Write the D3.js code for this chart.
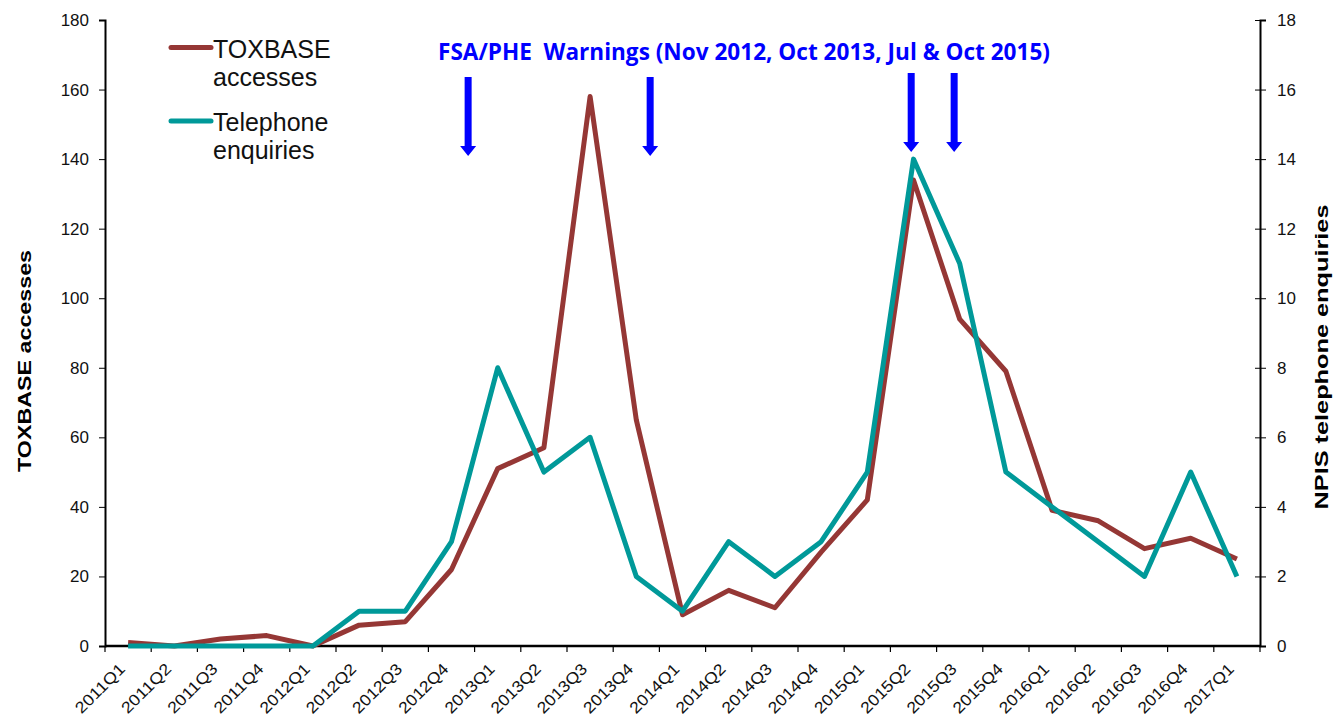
<!DOCTYPE html>
<html>
<head>
<meta charset="utf-8">
<script src="https://cdn.jsdelivr.net/npm/d3@7"></script>
<style>
  body { margin: 0; background: #fff; }
  text { font-family: "Liberation Sans", Arial, sans-serif; }
</style>
</head>
<body>
<div id="chart"></div>
<script>
// datos
const quarters = ["2011Q1","2011Q2","2011Q3","2011Q4","2012Q1","2012Q2","2012Q3","2012Q4",
  "2013Q1","2013Q2","2013Q3","2013Q4","2014Q1","2014Q2","2014Q3","2014Q4",
  "2015Q1","2015Q2","2015Q3","2015Q4","2016Q1","2016Q2","2016Q3","2016Q4","2017Q1"];
const toxbase = [1,0,2,3,0,6,7,22,51,57,158,65,9,16,11,27,42,134,94,79,39,36,28,31,25];
const telefono = [0,0,0,0,0,1,1,3,8,5,6,2,1,3,2,3,5,14,11,5,4,3,2,5,2];
const leftTicks = [0,20,40,60,80,100,120,140,160,180];
const rightTicks = [0,2,4,6,8,10,12,14,16,18];
// posicion de las advertencias, en indice de trimestre
const warningPos = [7.36, 11.3, 16.95, 17.88];
const warningTitle = "FSA/PHE  Warnings (Nov 2012, Oct 2013, Jul & Oct 2015)";

const W = 1334, H = 716;
const mLeft = 105, mRight = 1260, mTop = 20, mBottom = 646;

const SVG = d3.select("#chart").append("svg")
  .attr("width", W).attr("height", H);

const escalaX = d3.scaleBand().domain(quarters).range([mLeft, mRight]);
const cx = q => escalaX(q) + escalaX.bandwidth() / 2;
const escalaIdx = d3.scaleLinear().domain([0, quarters.length - 1])
  .range([cx(quarters[0]), cx(quarters[quarters.length - 1])]);
const escalaY1 = d3.scaleLinear().domain([0, 180]).range([mBottom, mTop]);
const escalaY2 = d3.scaleLinear().domain([0, 18]).range([mBottom, mTop]);

// eje izquierdo
const ejeIzq = SVG.append("g").attr("transform", `translate(${mLeft},0)`)
  .call(d3.axisLeft(escalaY1).tickValues(leftTicks).tickSize(6).tickPadding(10));
ejeIzq.select(".domain").attr("stroke", "#000").attr("stroke-width", 2);
ejeIzq.selectAll("text").style("font-size", "17px").attr("fill", "#111");

// eje derecho (ticks cruzados)
const ejeDer = SVG.append("g").attr("transform", `translate(${mRight},0)`)
  .call(d3.axisRight(escalaY2).tickValues(rightTicks).tickSize(6).tickPadding(11));
ejeDer.select(".domain").attr("stroke", "#000").attr("stroke-width", 2);
ejeDer.selectAll(".tick line").attr("x1", -5);
ejeDer.selectAll("text").style("font-size", "17px").attr("fill", "#111");

// eje x: ticks entre las bandas
const ejeX = SVG.append("g").attr("transform", `translate(0,${mBottom})`);
ejeX.append("line").attr("x1", mLeft).attr("x2", mRight)
  .attr("stroke", "#000").attr("stroke-width", 2.5);
const bordes = quarters.map(q => escalaX(q)).concat([mRight]);
ejeX.selectAll("line.tk").data(bordes).join("line")
  .attr("class", "tk")
  .attr("x1", d => d).attr("x2", d => d)
  .attr("y1", 0).attr("y2", 6)
  .attr("stroke", "#000").attr("stroke-width", 1.2);
ejeX.selectAll("text").data(quarters).join("text")
  .attr("transform", d => `translate(${cx(d) - 2},${24}) rotate(-45)`)
  .attr("text-anchor", "end")
  .style("font-size", "16px")
  .attr("fill", "#111")
  .attr("textLength", 63).attr("lengthAdjust", "spacingAndGlyphs")
  .text(d => d);

// titulos de ejes
SVG.append("text")
  .attr("transform", `translate(31,361) rotate(-90)`)
  .attr("text-anchor", "middle")
  .style("font-size", "18px").style("font-weight", "bold")
  .attr("textLength", 222).attr("lengthAdjust", "spacingAndGlyphs")
  .text("TOXBASE accesses");
SVG.append("text")
  .attr("transform", `translate(1328,357) rotate(-90)`)
  .attr("text-anchor", "middle")
  .style("font-size", "18px").style("font-weight", "bold")
  .attr("textLength", 305).attr("lengthAdjust", "spacingAndGlyphs")
  .text("NPIS telephone enquiries");

// lineas
const linea1 = d3.line().x((d, i) => cx(quarters[i])).y(d => escalaY1(d));
const linea2 = d3.line().x((d, i) => cx(quarters[i])).y(d => escalaY2(d));

SVG.append("path").datum(toxbase)
  .attr("d", linea1).attr("fill", "none")
  .attr("stroke", "#953735").attr("stroke-width", 5).attr("stroke-linejoin", "round");
SVG.append("path").datum(telefono)
  .attr("d", linea2).attr("fill", "none")
  .attr("stroke", "#009999").attr("stroke-width", 5).attr("stroke-linejoin", "round");

// leyenda
const leyenda = [
  { name: ["TOXBASE", "accesses"], color: "#953735" },
  { name: ["Telephone", "enquiries"], color: "#009999" }
];
const gL = SVG.selectAll("g.ley").data(leyenda).join("g")
  .attr("class", "ley")
  .attr("transform", (d, i) => `translate(171,${47.5 + i * 73.5})`);
gL.append("line").attr("x1", 0).attr("x2", 40)
  .attr("stroke", d => d.color).attr("stroke-width", 5).attr("stroke-linecap", "round");
gL.each(function(d) {
  const t = d3.select(this).append("text")
    .attr("x", 42).attr("y", 10)
    .style("font-size", "25px").attr("fill", "#111");
  t.append("tspan").attr("x", 42).text(d.name[0]);
  t.append("tspan").attr("x", 42).attr("dy", 28).text(d.name[1]);
});

// advertencias
SVG.append("text")
  .attr("x", 438).attr("y", 60)
  .attr("fill", "#0000ff")
  .style("font-family", "'Open Sans', sans-serif")
  .style("font-size", "24px").style("font-weight", "bold")
  .style("white-space", "pre")
  .attr("textLength", 612).attr("lengthAdjust", "spacingAndGlyphs")
  .text(warningTitle);

const flechas = SVG.selectAll("path.flecha").data(warningPos).join("path")
  .attr("class", "flecha")
  .attr("fill", "#0000ff")
  .attr("d", (d, i) => {
    const x = escalaIdx(d);
    const y0 = i >= 2 ? 73 : 77;
    const y1 = y0 + 79;
    return `M${x - 3.5},${y0} L${x + 3.5},${y0} L${x + 3.5},${y1 - 10} L${x + 8},${y1 - 10}
            L${x},${y1} L${x - 8},${y1 - 10} L${x - 3.5},${y1 - 10} Z`;
  });
</script>
</body>
</html>
